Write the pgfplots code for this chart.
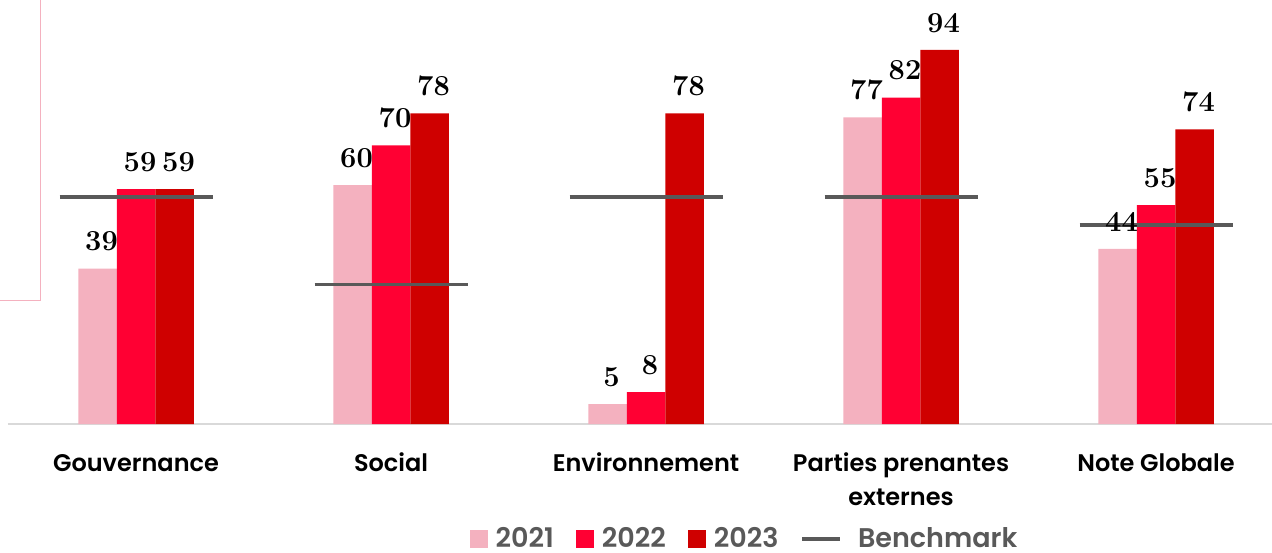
\documentclass[border=0pt]{standalone}
\usepackage{fontspec}
\usepackage{pgfplots}
\pgfplotsset{compat=1.18}
\newfontfamily\popsemi{Poppins SemiBold}
\definecolor{c2021}{HTML}{F4B1BF}
\definecolor{c2022}{HTML}{FF0033}
\definecolor{c2023}{HTML}{CF0000}
\definecolor{bench}{HTML}{595959}
\definecolor{axisgray}{HTML}{D9D9D9}
\newcommand\tl{\rule{0pt}{10pt}}
\pgfplotsset{
    barlbl/.style={
        nodes near coords={\pgfmathprintnumber[assume math mode=true]{\pgfplotspointmeta}},
        nodes near coords style={font=\bfseries\fontsize{14.5}{14.5}\selectfont, text=black,
            anchor=south, inner sep=0pt, yshift=8.5pt, xshift=#1},
    },
    barsq/.style={legend image code/.code={\fill[#1] (0pt,-4.5pt) rectangle (9pt,4.5pt); \path (11pt,0pt);}},
}
\begin{document}
\begin{tikzpicture}
\path[use as bounding box] (0,0) rectangle (636pt,276pt);
% fragment of a frame at the top left
\draw[c2021, line width=0.5pt] (0pt,126pt) -- (20pt,126pt) -- (20pt,276pt);
\begin{axis}[
    at={(4pt,64pt)}, anchor=south west,
    scale only axis, width=632pt, height=212pt,
    xmin=-0.502, xmax=4.4549, ymin=0, ymax=106.5,
    hide y axis,
    axis x line=bottom,
    x axis line style={-, draw=axisgray, line width=1pt},
    xtick={0,1,2,3,4},
    xticklabels={{\tl Gouvernance},{\tl Social},{\tl Environnement},{\tl Parties prenantes\\externes},{\tl Note Globale}},
    major tick length=0pt,
    xticklabel style={font=\popsemi\fontsize{12}{17}\selectfont, align=center,
        anchor=north, inner sep=0pt, yshift=-13.5pt},
    clip=false,
    legend columns=-1,
    legend style={at={(0.5835,-0.271)}, anchor=center, draw=none, fill=none,
        font=\popsemi\fontsize{13.5}{17}\selectfont, text=bench,
        /tikz/every even column/.append style={column sep=9pt}},
]
\addplot[ybar, fill=c2021, draw=none, bar width=19.25pt, bar shift=-19.25pt,
    barlbl=-17.25pt, barsq=c2021]
    coordinates {(0,39) (1,60) (2,5) (3,77) (4,44)};
\addlegendentry{2021}
\addplot[ybar, fill=c2022, draw=none, bar width=19.25pt, bar shift=0pt,
    barlbl=2pt, barsq=c2022]
    coordinates {(0,59) (1,70) (2,8) (3,82) (4,55)};
\addlegendentry{2022}
\addplot[ybar, fill=c2023, draw=none, bar width=19.25pt, bar shift=19.25pt,
    barlbl=21.25pt, barsq=c2023]
    coordinates {(0,59) (1,78) (2,78) (3,94) (4,74)};
\addlegendentry{2023}
\addplot[sharp plot, draw=bench, line width=1.8pt, unbounded coords=jump,
    legend image code/.code={\draw[bench, line width=1.8pt] (0pt,0pt) -- (19pt,0pt); \path (25pt,0pt);}]
    coordinates {(-0.3,57) (0.3,57) (0.5,nan) (0.7,35) (1.3,35) (1.5,nan)
                 (1.7,57) (2.3,57) (2.5,nan) (2.7,57) (3.3,57) (3.5,nan)
                 (3.7,50) (4.3,50)};
\addlegendentry{Benchmark}
\end{axis}
\end{tikzpicture}
\end{document}
